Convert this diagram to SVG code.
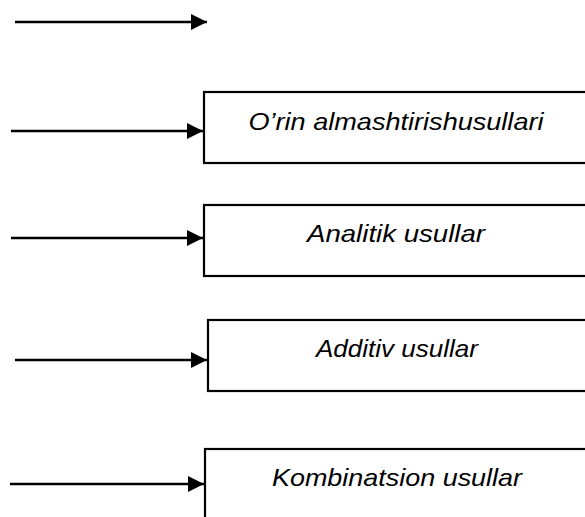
<svg xmlns="http://www.w3.org/2000/svg" width="585" height="517" viewBox="0 0 585 517">
<style>
.box{fill:#fff;stroke:#000;stroke-width:2.2}
.lbl{font-family:"Liberation Sans",Arial,sans-serif;font-style:italic;font-size:24px;fill:#000;text-anchor:middle}
.conn{stroke:#000;stroke-width:2.6;fill:none;marker-end:url(#ah)}
</style>
<defs>
<marker id="ah" markerUnits="userSpaceOnUse" markerWidth="17" markerHeight="17" refX="16" refY="8" orient="auto">
<path d="M0,0 L16,8 L0,16 Z" fill="#000"/>
</marker>
</defs>
<rect width="585" height="517" fill="#fff"/>
<g id="n1"><rect class="box" x="204" y="92" width="400" height="71"/><text class="lbl" x="396" y="130" textLength="295" lengthAdjust="spacingAndGlyphs">O’rin almashtirishusullari</text></g>
<g id="n2"><rect class="box" x="204" y="205" width="400" height="71"/><text class="lbl" x="396" y="242" textLength="178" lengthAdjust="spacingAndGlyphs">Analitik usullar</text></g>
<g id="n3"><rect class="box" x="208" y="320" width="400" height="71"/><text class="lbl" x="397" y="357" textLength="162" lengthAdjust="spacingAndGlyphs">Additiv usullar</text></g>
<g id="n4"><rect class="box" x="205" y="449" width="400" height="90"/><text class="lbl" x="397" y="486" textLength="250" lengthAdjust="spacingAndGlyphs">Kombinatsion usullar</text></g>
<g id="connectors">
<line class="conn" x1="15" y1="22" x2="207" y2="22"/>
<line class="conn" x1="11" y1="131" x2="203" y2="131"/>
<line class="conn" x1="11" y1="238" x2="203" y2="238"/>
<line class="conn" x1="15" y1="360" x2="207" y2="360"/>
<line class="conn" x1="10" y1="484" x2="204" y2="484"/>
</g>
</svg>
